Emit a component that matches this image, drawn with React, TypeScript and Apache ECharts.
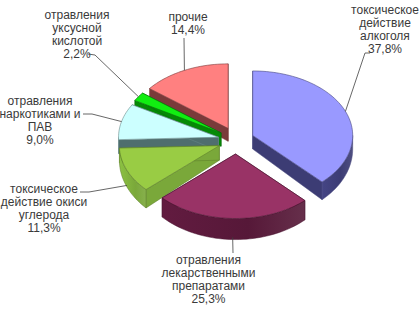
import React, { useEffect, useRef } from "react";
import * as echarts from "echarts";

const categories = [
  "токсическое\nдействие\nалкоголя",
  "отравления\nлекарственными\nпрепаратами",
  "токсическое\nдействие окиси\nуглерода",
  "отравления\nнаркотиками и\nПАВ",
  "отравления\nуксусной\nкислотой",
  "прочие",
];
const values = [37.8, 25.3, 11.3, 9.0, 2.2, 14.4];

// styles
const topColors = ["#9999FF", "#993366", "#99CC44", "#CCFFFF", "#11EE11", "#FF8080"];
const sideColors = ["#3C3C74", "#561838", "#7AA83A", "#4F6E6E", "#058A05", "#7A3A3A"];
const edgeColors = ["#4a4a80", "#4a1530", "#5c7d2a", "#6a8a8a", "#0a6a0a", "#7a3a3a"];

// layout
const CX = 236;
const CY = 140.5;
const RX = 100;
const RY = 64.5;
const EX = 18;
const EY = 13.5;
const labelPos = [
  [385, 3.5],
  [208.5, 253.5],
  [44, 182.5],
  [40, 94.5],
  [77, 8],
  [188, 10.5],
];
const leaderStart = [
  [[370, 53], [365, 53]],
  [[233, 253]],
  [[80, 192], [89, 192]],
  [[83, 114], [92, 114]],
  [[88, 54], [95, 55]],
  [[184, 38]],
];

const rad = (d: number) => (d * Math.PI) / 180;
const pt = (c: number[], deg: number) => [c[0] + RX * Math.sin(rad(deg)), c[1] - RY * Math.cos(rad(deg))];
const depth = (y: number) => 14 + 0.09 * (y - 140);
const down = (p: number[]) => [p[0], p[1] + depth(p[1])];
const arc = (c: number[], a: number, b: number) => {
  const n = Math.max(2, Math.ceil((b - a) / 2));
  const out: number[][] = [];
  for (let k = 0; k <= n; k++) out.push(pt(c, a + ((b - a) * k) / n));
  return out;
};

function buildSlices() {
  const total = values.reduce((s, v) => s + v, 0);
  let acc = 0;
  const sl = values.map((v, i) => {
    const a = (acc / total) * 360;
    acc += v;
    const b = (acc / total) * 360;
    const m = (a + b) / 2;
    const apex = [CX + EX * Math.sin(rad(m)), CY - EY * Math.cos(rad(m))];
    return { i, a, b, m, apex, rank: 0 };
  });
  const order = [...sl].sort((p, q) => p.apex[1] - q.apex[1]);
  order.forEach((s, r) => (s.rank = r));
  return sl;
}

export default function App() {
  const ref = useRef<HTMLDivElement>(null);
  useEffect(() => {
    if (!ref.current) return;
    const chart = echarts.init(ref.current, undefined, { renderer: "svg" });
    const slices = buildSlices();
    const renderItem = (params: any, api: any) => {
      const i = params.dataIndex;
      const s = slices[i];
      const base = s.rank * 10;
      const c = s.apex;
      const children: any[] = [];
      const face = (p1: number[]) => [c, p1, down(p1), down(c)];
      const sideStyle = { fill: sideColors[i], stroke: edgeColors[i], lineWidth: 0.5 };
      children.push({ type: "polygon", z2: base + 1, shape: { points: face(pt(c, s.a)) }, style: sideStyle });
      children.push({ type: "polygon", z2: base + 1, shape: { points: face(pt(c, s.b)) }, style: sideStyle });
      const va = Math.max(s.a, 90);
      const vb = Math.min(s.b, 270);
      if (vb > va) {
        const top = arc(c, va, vb);
        const bot = top.map(down).reverse();
        children.push({
          type: "polygon",
          z2: base + 2,
          shape: { points: [...top, ...bot] },
          style: {
            fill: new echarts.graphic.LinearGradient(0, 0, 1, 0, [
              { offset: 0, color: echarts.color.lift(sideColors[i], -0.15) },
              { offset: 0.6, color: sideColors[i] },
              { offset: 1, color: echarts.color.lift(sideColors[i], 0.1) },
            ]),
            stroke: edgeColors[i],
            lineWidth: 0.5,
          },
        });
      }
      children.push({
        type: "polygon",
        z2: base + 5,
        shape: { points: [c, ...arc(c, s.a, s.b)] },
        style: { fill: topColors[i], stroke: edgeColors[i], lineWidth: 0.6 },
      });
      // leader line
      let e = pt(c, s.m);
      if (Math.cos(rad(s.m)) < 0) e = [e[0], e[1] + depth(e[1]) * 0.9];
      children.push({
        type: "polyline",
        z2: 200,
        shape: { points: [...leaderStart[i], e] },
        style: { stroke: "#404040", lineWidth: 0.8, fill: null },
      });
      const v = api.value(1);
      children.push({
        type: "text",
        z2: 210,
        style: {
          text: categories[i] + "\n" + v.toFixed(1).replace(".", ",") + "%",
          x: labelPos[i][0],
          y: labelPos[i][1],
          align: "center",
          verticalAlign: "top",
          fontFamily: "Liberation Sans, Arial, sans-serif",
          fontSize: 12,
          lineHeight: 13,
          fill: "#3a3a3a",
        },
      });
      return { type: "group", children };
    };
    chart.setOption({
      animation: false,
      backgroundColor: "#ffffff",
      series: [
        {
          type: "custom",
          coordinateSystem: "none",
          renderItem,
          data: values.map((v, i) => [i, v]),
        },
      ],
    });
    return () => chart.dispose();
  }, []);
  return (
    <div
      ref={ref}
      style={{ position: "fixed", left: 0, top: 0, width: 420, height: 315 }}
    />
  );
}
